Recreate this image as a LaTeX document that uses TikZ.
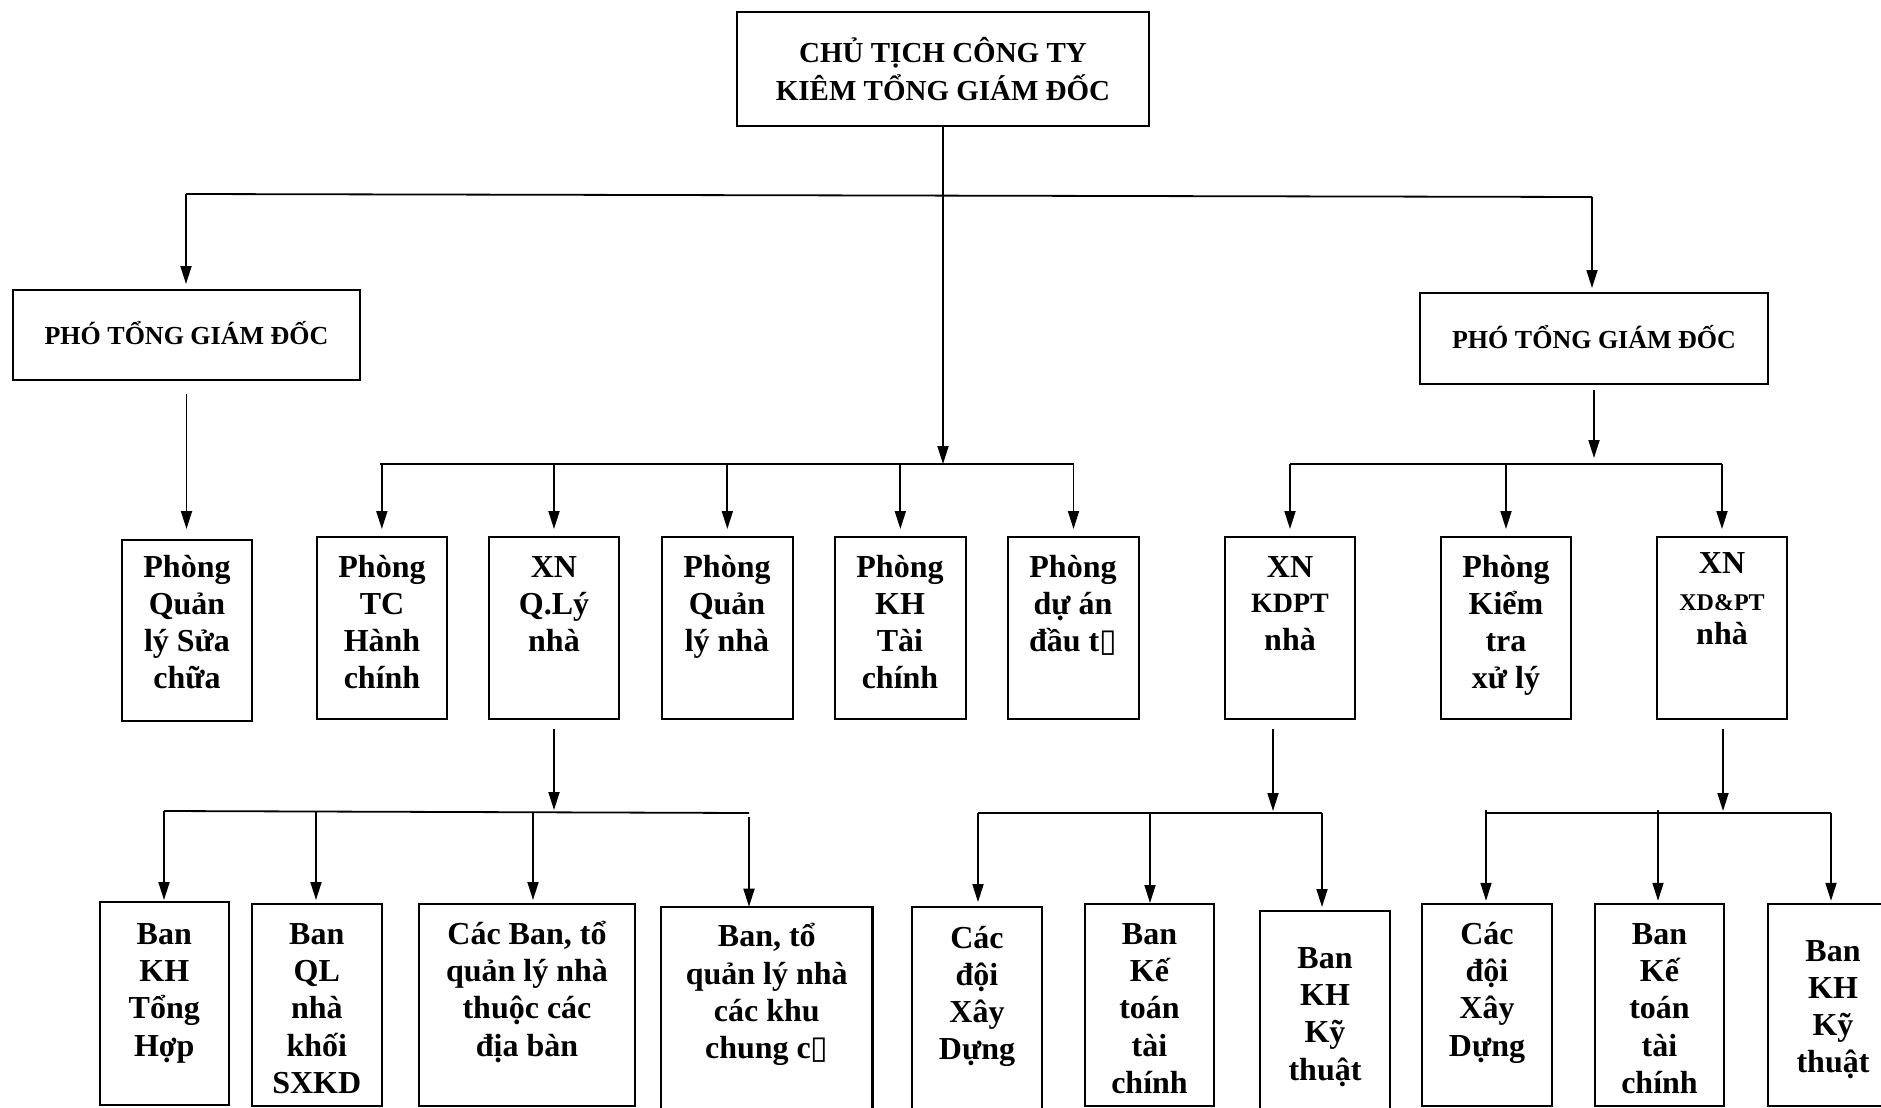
\documentclass[tikz,border=0pt]{standalone}
\usepackage{fontspec}
\setmainfont{Liberation Serif}
\newfontfamily\boxglyph{DejaVu Sans}
\newcommand\missingch{{\boxglyph\mdseries\char"25AF}}
\usetikzlibrary{arrows.meta}

% one unit = one pixel, y grows downwards;
% text nodes are anchored at the baseline of their last line
\tikzset{
  x=0.5pt, y=-0.5pt,
  bx/.style={draw, line width=1.1pt, inner sep=0pt, outer sep=0pt},
  ln/.style={line width=0.9pt},
  arr/.style={ln, -{Triangle[width=5.5pt,length=9pt]}},
  txt/.style={font=\fontsize{16}{18.6}\selectfont\bfseries, align=center, inner sep=0pt, anchor=base},
  head/.style={txt, font=\fontsize{13}{16}\selectfont\bfseries},
}

% \orgbox{name}{x1}{y1}{x2}{y2}
\newcommand\orgbox[5]{%
  \node[bx, anchor=north west, minimum width={(#4-#2)*0.5pt},
        minimum height={(#5-#3)*0.5pt}] (#1) at (#2,#3) {};}

\begin{document}
\begin{tikzpicture}
\useasboundingbox (0,0) rectangle (1881,1108);

% ---------- boxes ----------
\orgbox{top}{737}{12}{1149}{126}
\orgbox{pg1}{13}{290}{360}{380}
\orgbox{pg2}{1420}{293}{1768}{384}

\orgbox{qlsc}{121.7}{540}{252}{720.7}
\orgbox{tc}{317}{537}{446.7}{719}
\orgbox{xnql}{489}{537}{619}{719}
\orgbox{qln}{662}{537}{792.7}{719}
\orgbox{kh}{835}{537}{965.7}{719}
\orgbox{dau}{1008}{537}{1139}{719}
\orgbox{kdpt}{1225}{537}{1355}{719}
\orgbox{kiem}{1441}{537}{1571}{719}
\orgbox{xdpt}{1657}{537}{1787}{719}

\orgbox{b1}{99.6}{902}{229}{1105}
\orgbox{b2}{252}{904}{381.6}{1106}
\orgbox{b3}{419}{904}{635}{1106}
\orgbox{b4}{661}{906.7}{872.5}{1116}
\orgbox{k1}{912}{906.7}{1041.6}{1116}
\orgbox{k2}{1085}{904}{1214}{1106}
\orgbox{k3}{1260}{911}{1390}{1116}
\orgbox{x1}{1422}{904}{1552}{1106}
\orgbox{x2}{1595}{904}{1724}{1106}
\orgbox{x3}{1768}{904}{1898}{1106}

% ---------- texts ----------
\node[txt, font=\fontsize{14.5}{19}\selectfont\bfseries] (t-top) at (943,100.4)
  {CHỦ TỊCH CÔNG TY\\KIÊM TỔNG GIÁM ĐỐC};
\node[head] (t-pg1) at (186.5,344) {PHÓ TỔNG GIÁM ĐỐC};
\node[head] (t-pg2) at (1594,348) {PHÓ TỔNG GIÁM ĐỐC};

\node[txt] (t-qlsc) at (187,688.6) {Phòng\\Quản\\lý Sửa\\chữa};
\node[txt] (t-tc)   at (382,688.6) {Phòng\\TC\\Hành\\chính};
\node[txt] (t-xnql) at (554,651.4) {XN\\Q.Lý\\nhà};
\node[txt] (t-qln)  at (727,651.4) {Phòng\\Quản\\lý nhà};
\node[txt] (t-kh)   at (900,688.6) {Phòng\\KH\\Tài\\chính};
\node[txt] (t-dau)  at (1073,651.4) {Phòng\\dự án\\đầu t\missingch};
\node[txt] (t-kdpt) at (1290,650) {XN\\[-1pt]{\fontsize{14}{17}\selectfont KDPT}\\nhà};
\node[txt] (t-kiem) at (1506,688.6) {Phòng\\Kiểm\\tra\\xử lý};
\node[txt] (t-xdpt) at (1722,644) {XN\\{\fontsize{12}{15}\selectfont XD\&PT}\\[-2pt]nhà};

\node[txt] (t-b1) at (164.3,1056) {Ban\\KH\\Tổng\\Hợp};
\node[txt] (t-b2) at (316.8,1093.2) {Ban\\QL\\nhà\\khối\\SXKD};
\node[txt] (t-b3) at (527,1056) {Các Ban, tổ\\quản lý nhà\\thuộc các\\địa bàn};
\node[txt] (t-b4) at (766.8,1058.4) {Ban, tổ\\quản lý nhà\\các khu\\chung c\missingch};
\node[txt] (t-k1) at (977,1059.6) {Các\\đội\\Xây\\Dựng};
\node[txt] (t-k2) at (1149.5,1093.2) {Ban\\Kế\\toán\\tài\\chính};
\node[txt] (t-k3) at (1325,1080) {Ban\\KH\\Kỹ\\thuật};
\node[txt] (t-x1) at (1487,1056) {Các\\đội\\Xây\\Dựng};
\node[txt] (t-x2) at (1659.5,1093.2) {Ban\\Kế\\toán\\tài\\chính};
\node[txt] (t-x3) at (1833,1072.8) {Ban\\KH\\Kỹ\\thuật};

% ---------- top level connectors ----------
\coordinate (busT-l) at (186,194);
\coordinate (busT-r) at (1592,197);
\coordinate (busC-m) at (943,464);
\draw[ln] (busT-l) -- (busT-r);
\draw[arr] (top.south) -- (busC-m);
\draw[arr, shorten >=3pt] (busT-l) -- (busT-l |- pg1.north);
\draw[arr, shorten >=2.5pt] (busT-r) -- (busT-r |- pg2.north);

% left deputy
\draw[arr, shorten <=7pt, shorten >=5.5pt] (pg1.south) -- (pg1.south |- qlsc.north);

% central bus
\coordinate (busC-l) at (380,464);
\coordinate (busC-r) at (1074,464);
\draw[ln] (busC-l) -- (busC-r);
\foreach \n in {tc,xnql,qln,kh,dau}
  \draw[arr, shorten >=4pt] (\n.north |- busC-l) -- (\n.north);

% right deputy bus
\coordinate (busR-l) at (1290,464);
\coordinate (busR-r) at (1722,464);
\draw[ln] (busR-l) -- (busR-r);
\draw[arr, shorten <=3pt, shorten >=3pt] (pg2.south) -- (pg2.south |- busR-l);
\foreach \n in {kdpt,kiem,xdpt}
  \draw[arr, shorten >=4pt] (\n.north |- busR-l) -- (\n.north);

% ---------- XN Q.Ly nha group ----------
\coordinate (busQ-l) at (164,811);
\coordinate (busQ-2) at (316,811.5);
\coordinate (busQ-m) at (554,812);
\coordinate (busQ-3) at (533,812.3);
\coordinate (busQ-r) at (749,813);
\coordinate (busQ-4) at (749,817);
\draw[ln] (busQ-l) -- (busQ-r);
\draw[arr, shorten <=5pt, shorten >=1pt] (xnql.south) -- (busQ-m);
\draw[arr, shorten >=1pt] (busQ-l) -- (busQ-l |- b1.north);
\draw[arr, shorten >=2pt] (busQ-2) -- (busQ-2 |- b2.north);
\draw[arr, shorten >=2pt] (busQ-3) -- (busQ-3 |- b3.north);
\draw[arr] (busQ-4) -- (busQ-4 |- b4.north);

% ---------- XN KDPT group ----------
\coordinate (busK-l) at (978,813);
\coordinate (busK-2) at (1150,813);
\coordinate (busK-m) at (1273,813);
\coordinate (busK-r) at (1322,813);
\draw[ln] (busK-l) -- (busK-r);
\draw[arr, shorten <=5pt, shorten >=1pt] (busK-m |- kdpt.south) -- (busK-m);
\draw[arr, shorten >=2.3pt] (busK-l) -- (busK-l |- k1.north);
\draw[arr, shorten >=0.5pt] (busK-2) -- (busK-2 |- k2.north);
\draw[arr, shorten >=2pt] (busK-r) -- (busK-r |- k3.north);

% ---------- XN XD&PT group ----------
\coordinate (busX-l) at (1486,813);
\coordinate (busX-1) at (1486,810);
\coordinate (busX-2) at (1658,810);
\coordinate (busX-m) at (1723,813);
\coordinate (busX-r) at (1831,813);
\draw[ln] (busX-l) -- (busX-r);
\draw[arr, shorten <=5pt, shorten >=1pt] (busX-m |- xdpt.south) -- (busX-m);
\draw[arr, shorten >=1.6pt] (busX-1) -- (busX-1 |- x1.north);
\draw[arr, shorten >=1.6pt] (busX-2) -- (busX-2 |- x2.north);
\draw[arr, shorten >=1.6pt] (busX-r) -- (busX-r |- x3.north);
\end{tikzpicture}
\end{document}
